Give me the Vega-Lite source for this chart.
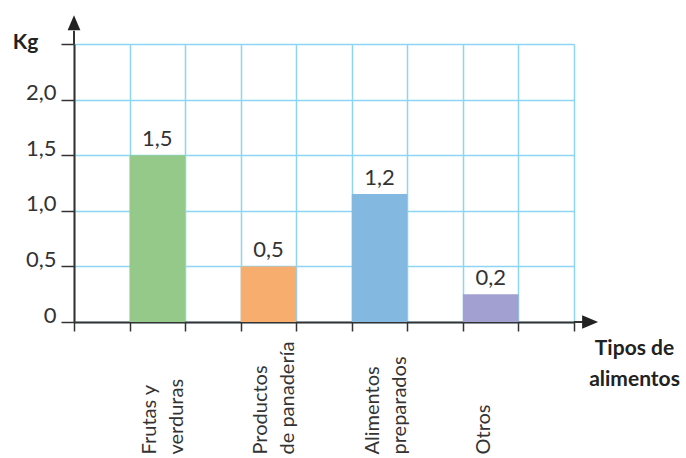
{
  "$schema": "https://vega.github.io/schema/vega-lite/v6.json",
  "width": 500,
  "height": 278,
  "autosize": {"type": "none"},
  "padding": {"left": 74, "top": 44, "right": 112, "bottom": 136},
  "config": {
    "font": "Lato",
    "view": {"stroke": null},
    "axis": {"labelColor": "#333333", "titleColor": "#222222"}
  },
  "resolve": {"scale": {"x": "independent"}, "axis": {"x": "independent"}},
  "layer": [
    {
      "data": {
        "values": [
          {"tipo": "Frutas y verduras", "kg": 1.5, "etiqueta": "1,5"},
          {"tipo": "Productos de panadería", "kg": 0.5, "etiqueta": "0,5"},
          {"tipo": "Alimentos preparados", "kg": 1.15, "etiqueta": "1,2"},
          {"tipo": "Otros", "kg": 0.25, "etiqueta": "0,2"}
        ]
      },
      "encoding": {
        "x": {
          "field": "tipo",
          "type": "nominal",
          "scale": {
            "domain": ["_1", "Frutas y verduras", "_2", "Productos de panadería", "_3", "Alimentos preparados", "_4", "Otros", "_5"],
            "paddingInner": 0,
            "paddingOuter": 0
          },
          "axis": {
            "orient": "bottom",
            "title": null,
            "ticks": false,
            "domain": false,
            "grid": false,
            "labelAngle": -90,
            "labelAlign": "left",
            "labelBaseline": "middle",
            "labelPadding": 132,
            "labelOffset": -7,
            "labelFontSize": 20,
            "labelLineHeight": 27,
            "labelOverlap": false,
            "labelBound": false,
            "labelFlush": false,
            "labelExpr": "{'Frutas y verduras': ['Frutas y', 'verduras'], 'Productos de panadería': ['Productos', 'de panadería'], 'Alimentos preparados': ['Alimentos', 'preparados'], 'Otros': ['Otros']}[datum.value] || ''"
          }
        },
        "y": {
          "field": "kg",
          "type": "quantitative",
          "scale": {"domain": [0, 2.5], "nice": false},
          "axis": {
            "values": [0, 0.5, 1, 1.5, 2, 2.5],
            "grid": true,
            "gridColor": "#8dd5f3",
            "gridWidth": 1.5,
            "domain": true,
            "domainColor": "#333333",
            "domainWidth": 2,
            "tickColor": "#333333",
            "tickSize": 13,
            "tickWidth": 1.5,
            "labelPadding": 5,
            "labelFontSize": 22,
            "labelBaseline": "alphabetic",
            "labelExpr": "datum.value == 0 ? '0' : (datum.value == 2.5 ? '' : replace(format(datum.value, '.1f'), '.', ','))",
            "title": "Kg",
            "titleAngle": 0,
            "titleX": -49,
            "titleY": -2,
            "titleAlign": "center",
            "titleBaseline": "middle",
            "titleFontSize": 21,
            "titleFontWeight": "bold"
          }
        }
      },
      "layer": [
        {
          "mark": {"type": "bar"},
          "encoding": {
            "color": {
              "field": "tipo",
              "type": "nominal",
              "scale": {
                "domain": ["Frutas y verduras", "Productos de panadería", "Alimentos preparados", "Otros"],
                "range": ["#94c98a", "#f7ad6e", "#83b9e0", "#a1a0d0"]
              },
              "legend": null
            }
          }
        },
        {
          "mark": {"type": "text", "baseline": "alphabetic", "dy": -9, "fontSize": 22, "color": "#333333"},
          "encoding": {"text": {"field": "etiqueta"}}
        }
      ]
    },
    {
      "data": {"values": [{}]},
      "layer": [
        {
          "mark": {"type": "rule", "color": "#333333", "strokeWidth": 2},
          "encoding": {
            "x": {
              "datum": 9,
              "type": "quantitative",
              "scale": {"domain": [0, 9], "nice": false, "zero": true},
              "axis": {
                "orient": "bottom",
                "values": [0, 1, 2, 3, 4, 5, 6, 7, 8, 9],
                "grid": true,
                "gridColor": "#8dd5f3",
                "gridWidth": 1.5,
                "labels": false,
                "ticks": true,
                "tickSize": 9,
                "tickColor": "#333333",
                "tickWidth": 1.5,
                "domain": true,
                "domainColor": "#333333",
                "domainWidth": 2,
                "title": ["Tipos de", "alimentos"],
                "titleX": 560,
                "titleY": 15,
                "titleAlign": "center",
                "titleBaseline": "top",
                "titleFontSize": 21,
                "titleFontWeight": "bold",
                "titleLineHeight": 31
              }
            },
            "x2": {"datum": 9.25},
            "y": {"datum": 0, "type": "quantitative"}
          }
        },
        {
          "mark": {"type": "rule", "color": "#333333", "strokeWidth": 2},
          "encoding": {
            "x": {"datum": 0, "type": "quantitative"},
            "y": {"datum": 2.5, "type": "quantitative"},
            "y2": {"datum": 2.62}
          }
        },
        {
          "mark": {"type": "point", "filled": true, "opacity": 1, "color": "#222222", "shape": "M1,0L-1,-0.85L-1,0.85Z", "size": 256},
          "encoding": {
            "x": {"datum": 9.29, "type": "quantitative"},
            "y": {"datum": 0, "type": "quantitative"}
          }
        },
        {
          "mark": {"type": "point", "filled": true, "opacity": 1, "color": "#222222", "shape": "M0,-1L-0.85,1L0.85,1Z", "size": 225},
          "encoding": {
            "x": {"datum": 0, "type": "quantitative"},
            "y": {"datum": 2.69, "type": "quantitative"}
          }
        }
      ]
    }
  ]
}
